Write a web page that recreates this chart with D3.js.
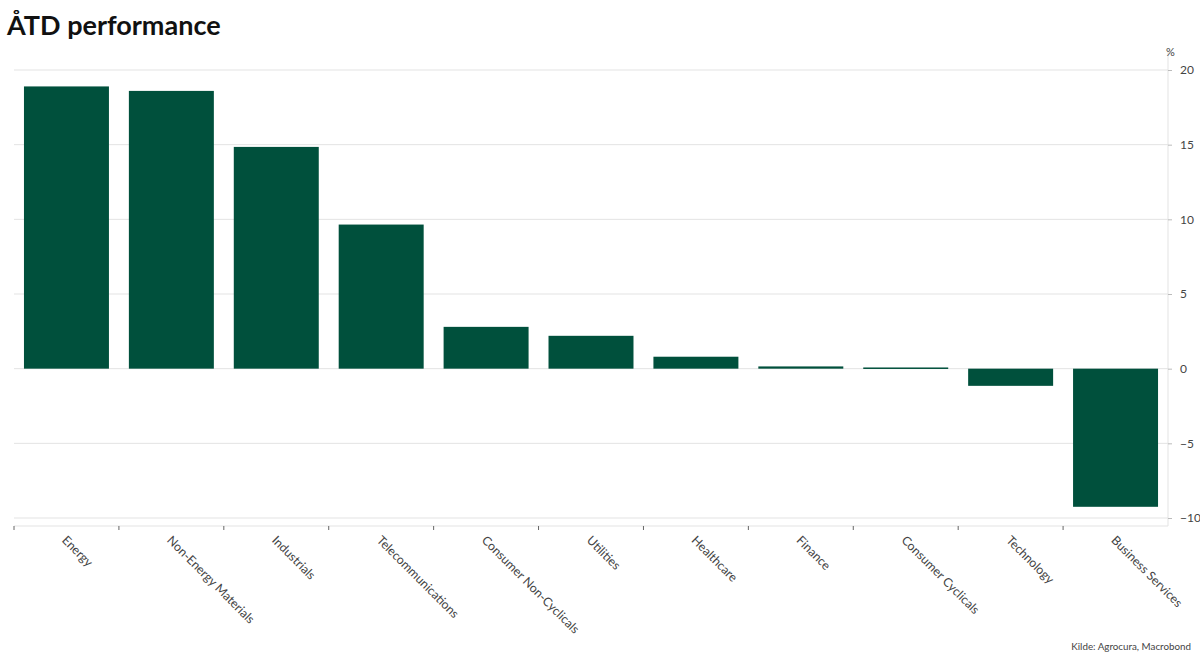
<!DOCTYPE html>
<html><head><meta charset="utf-8">
<script src="https://cdn.jsdelivr.net/npm/d3@7"></script>
<style>body{margin:0;background:#fff}svg{display:block}</style>
</head><body><svg id="c" width="1200" height="662"></svg>
<script>
const categories = ["Energy","Non-Energy Materials","Industrials","Telecommunications","Consumer Non-Cyclicals","Utilities","Healthcare","Finance","Consumer Cyclicals","Technology","Business Services"];
const values = [18.9, 18.6, 14.85, 9.65, 2.8, 2.2, 0.8, 0.15, 0.08, -1.15, -9.25];
const yTicks = [-10, -5, 0, 5, 10, 15, 20];
const title = "ÅTD performance";
const unit = "%";
const source = "Kilde: Agrocura, Macrobond";

const font = "Lato, 'Open Sans', sans-serif";
const svg = d3.select("#c");
const L = 14, R = 1168, T = 70, B = 518;
const x = d3.scaleBand().domain(categories).range([L, R]).paddingInner(0.19).paddingOuter(0.095);
const y = d3.scaleLinear().domain([-10, 20]).range([B, T]);

svg.append("text").attr("x", 7).attr("y", 35).text(title)
  .attr("font-family", font).attr("font-weight", "bold").attr("font-size", 27).attr("fill", "#111");

// gridlines
svg.append("g").selectAll("line").data(yTicks).join("line")
  .attr("x1", L).attr("x2", R).attr("y1", d => y(d)).attr("y2", d => y(d))
  .attr("stroke", "#e3e3e3").attr("stroke-width", 1);

// right axis
const ya = d3.axisRight(y).tickValues(yTicks).tickSize(4).tickPadding(8).tickFormat(d3.format("d"));
const gy = svg.append("g").attr("transform", `translate(${R},0)`).call(ya);
gy.select(".domain").attr("stroke", "#e3e3e3").attr("d", `M0,${T-20}V${B+8}`);
gy.selectAll(".tick line").attr("stroke", "#bbb");
gy.selectAll(".tick text").attr("font-family", font).attr("font-size", 12).attr("fill", "#444");
svg.append("text").attr("x", R - 2).attr("y", 56).text(unit)
  .attr("font-family", font).attr("font-size", 11).attr("fill", "#444");

// bars
svg.append("g").selectAll("rect").data(values).join("rect")
  .attr("x", (d, i) => x(categories[i]))
  .attr("width", x.bandwidth())
  .attr("y", d => y(Math.max(0, d)))
  .attr("height", d => Math.max(1.5, Math.abs(y(d) - y(0))))
  .attr("fill", "#00503c");

// bottom axis
const xBase = 526;
svg.append("line").attr("x1", L).attr("x2", R).attr("y1", xBase).attr("y2", xBase).attr("stroke", "#e3e3e3");
const bounds = categories.map(c => x(c) - x.step() * x.paddingInner() / 2);
bounds[0] = L;
svg.append("g").selectAll("line").data(bounds).join("line")
  .attr("x1", d => d).attr("x2", d => d).attr("y1", xBase).attr("y2", xBase + 4)
  .attr("stroke", "#666");
svg.append("g").selectAll("text").data(categories).join("text")
  .attr("transform", d => `translate(${x(d) + x.bandwidth() / 2 + 1},${xBase + 9}) rotate(45)`)
  .attr("dy", "0.7em")
  .text(d => d).attr("font-family", font).attr("font-size", 12.3).attr("fill", "#444");

svg.append("text").attr("x", 1191).attr("y", 650).attr("text-anchor", "end").text(source)
  .attr("font-family", font).attr("font-size", 9.8).attr("fill", "#444");
</script></body></html>
